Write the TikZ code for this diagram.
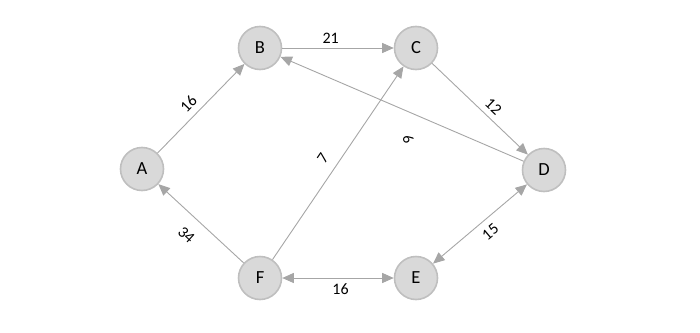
\documentclass[tikz,border=0pt]{standalone}
\usepackage{fontspec}
\setmainfont{Carlito}
\usetikzlibrary{arrows.meta}
\definecolor{nodefill}{HTML}{D9D9D9}
\definecolor{nodeline}{HTML}{BFBFBF}
\definecolor{edgecol}{HTML}{A6A6A6}
\tikzset{
  vertex/.style={circle, fill=nodefill, draw=nodeline, line width=1.6pt,
    minimum size=43pt, inner sep=0pt, font=\fontsize{18.5}{20}\selectfont},
  edge/.style={draw=edgecol, line width=0.9pt},
  tip/.style={-{Triangle[length=11.5pt,width=10pt]}},
  rtip/.style={{Triangle[length=11.5pt,width=10pt]}-},
  btip/.style={{Triangle[length=11.5pt,width=10pt]}-{Triangle[length=11.5pt,width=10pt]}},
  lbl/.style={inner sep=0pt, font=\fontsize{16}{18}\selectfont, text=black}
}
\begin{document}
\begin{tikzpicture}[x=1pt,y=-1pt]
\useasboundingbox (0,0) rectangle (700,332);
\node[vertex] (A) at (142,169) {A};
\node[vertex] (B) at (260,48) {B};
\node[vertex] (C) at (416,48) {C};
\node[vertex] (D) at (544,170) {D};
\node[vertex] (E) at (416,278) {E};
\node[vertex] (F) at (260,278) {F};

\draw[edge,tip] (A) -- node[lbl,sloped,above=6.3pt,pos=0.456] {16} (B);
\draw[edge,tip] (B) -- node[lbl,sloped,above=4pt,pos=0.434] {21} (C);
\draw[edge,tip] (C) -- node[lbl,sloped,above=5.3pt,pos=0.561] {12} (D);
\draw[edge,tip] (D) -- coordinate[pos=0.433] (m9) (B);
\node[lbl,rotate=110] (l9) at ([shift={(-9.9,23.1)}]m9) {9};
\draw[edge,tip] (F) -- node[lbl,sloped,above=9.7pt,pos=0.481] {7} (C);
\draw[edge,rtip] (A) -- node[lbl,sloped,below=12.6pt,pos=0.473] {34} (F);
\draw[edge,btip] (E) -- node[lbl,sloped,below=7.2pt,pos=0.522] {15} (D);
\draw[edge,btip] (F) -- node[lbl,below=5.4pt,pos=0.523] {16} (E);
\end{tikzpicture}
\end{document}
